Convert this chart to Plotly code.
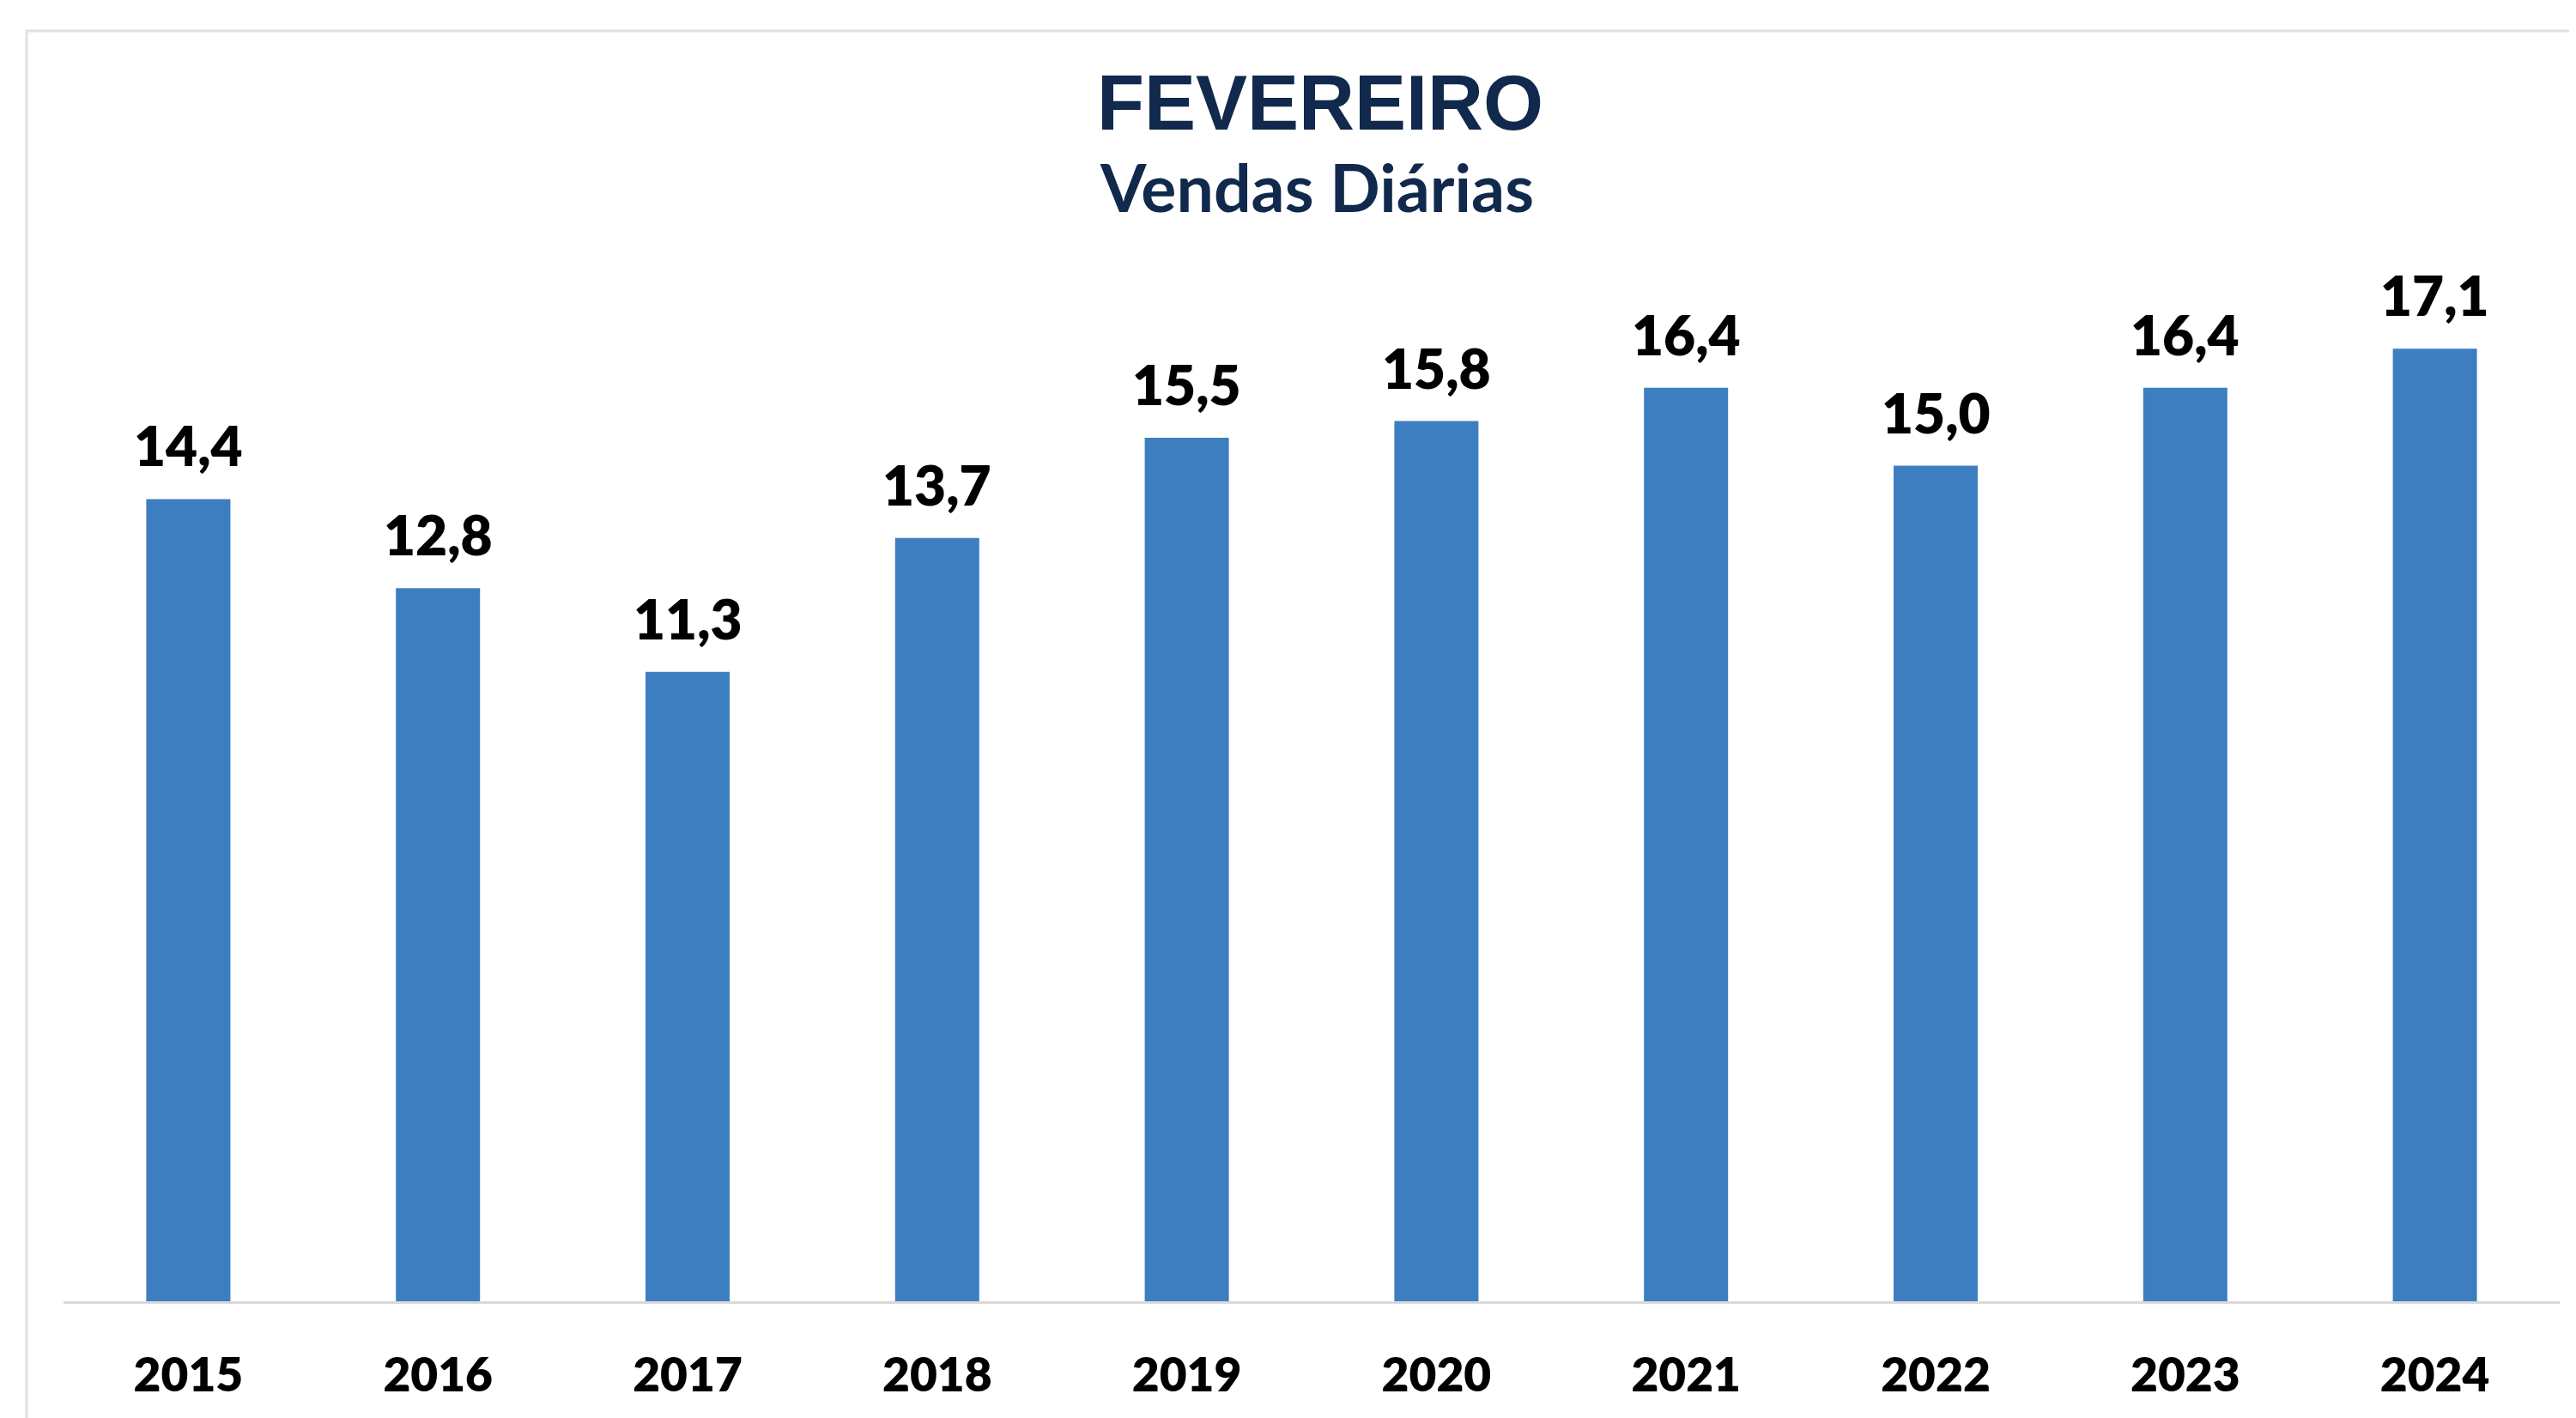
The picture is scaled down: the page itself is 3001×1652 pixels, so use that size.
import plotly.graph_objects as go

# ---- data ----
years = ["2015", "2016", "2017", "2018", "2019", "2020", "2021", "2022", "2023", "2024"]
vendas = [14.4, 12.8, 11.3, 13.7, 15.5, 15.8, 16.4, 15.0, 16.4, 17.1]
value_labels = [f"{v:.1f}".replace(".", ",") for v in vendas]
title_main = "FEVEREIRO"
title_sub = "Vendas Diárias"

# ---- layout geometry (pixels) ----
W, H = 3001, 1652
L, R, T, B = 66, 27, 210, 144
plot_h = H - T - B
plot_w = W - L - R


def py(pix):
    """page pixel y -> paper y"""
    return (H - B - pix) / plot_h


def px(pix):
    return (pix - L) / plot_w


BAR_COLOR = "#3D7EC1"
NAVY = "#10294C"

fig = go.Figure(
    go.Bar(
        x=years,
        y=vendas,
        marker=dict(color=BAR_COLOR, line=dict(width=0)),
        hoverinfo="skip",
    )
)

# value labels above bars (x given as category index)
for i, (v, t) in enumerate(zip(vendas, value_labels)):
    fig.add_annotation(
        x=i, y=v, xref="x", yref="y", text=t, showarrow=False,
        xanchor="center", yanchor="bottom", yshift=22,
        font=dict(family="Lato", size=64, color="#000000", weight=800),
    )

fig.add_annotation(
    xref="paper", yref="paper", x=px(1530), y=py(112), text=title_main,
    showarrow=False, xanchor="center", yanchor="middle",
    font=dict(family="Liberation Sans", size=90, color=NAVY, weight="bold"),
)
fig.add_annotation(
    xref="paper", yref="paper", x=px(1526), y=py(209), text=title_sub,
    showarrow=False, xanchor="center", yanchor="middle",
    font=dict(family="Lato", size=77, color=NAVY, weight="bold"),
)

# faint chart-area frame
fig.add_shape(
    type="rect", xref="paper", yref="paper",
    x0=px(23), x1=px(3060), y0=py(1720), y1=py(28),
    line=dict(color="#E0E0E0", width=3), fillcolor="rgba(0,0,0,0)", layer="below",
)

fig.update_layout(
    width=W, height=H,
    margin=dict(l=L, r=R, t=T, b=B, pad=0),
    paper_bgcolor="#FFFFFF", plot_bgcolor="#FFFFFF",
    bargap=0.663, showlegend=False,
    xaxis=dict(
        type="category", range=[-0.5, 9.5], showgrid=False, zeroline=False,
        showline=True, linecolor="#D9D9D9", linewidth=3, ticks="",
        tickfont=dict(family="Lato", size=55, color="#000000", weight=800),
        ticklabelstandoff=36,
    ),
    yaxis=dict(range=[0, 20], visible=False, showgrid=False, zeroline=False),
)

fig.write_html("out.html")
